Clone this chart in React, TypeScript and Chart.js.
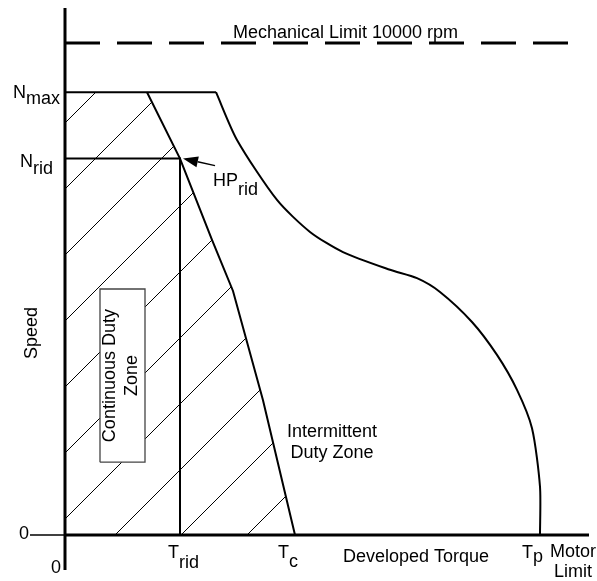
import React, { useEffect, useRef } from 'react';
import { Chart, registerables } from 'chart.js';

Chart.register(...registerables);

// ---- values (torque in arbitrary units, speed in rpm) ----
const SPEED_LIMIT = 10000;
const N_MAX = 9000;
const N_RID = 7650;
const T_RID = 115;
const T_C = 230;
const T_P = 475;

const continuousTorque = [82, 115, 147, 168, 198, 230];
const continuousSpeed = [9000, 7650, 6000, 4960, 2740, 0];

const intermittentTorque = [151, 172, 212, 245, 278, 325, 352, 375, 407, 432, 452, 467, 475, 475];
const intermittentSpeed = [9000, 8030, 6810, 6160, 5750, 5390, 5220, 4940, 4330, 3660, 2950, 2170, 980, 0];

const torqueAxisRange = [-35, 524];
const speedAxisRange = [-711, 10711];
const limitLineRange = [0, 505];

const boxTorque = [35, 80];
const boxSpeed = [1480, 5000];

const xTickLabels = [
  { main: 'T', sub: 'rid', value: T_RID },
  { main: 'T', sub: 'c', value: T_C },
  { main: 'T', sub: 'p', value: T_P },
];
const yTickLabels = [
  { main: 'N', sub: 'max', value: N_MAX },
  { main: 'N', sub: 'rid', value: N_RID },
];

const FONT = '18px "Liberation Sans", Arial, Helvetica, sans-serif';

function makeHatch(): CanvasPattern | string {
  const s = 66;
  const c = document.createElement('canvas');
  c.width = s;
  c.height = s;
  const g = c.getContext('2d');
  if (!g) return 'transparent';
  g.strokeStyle = '#000';
  g.lineWidth = 1;
  g.beginPath();
  g.moveTo(-3, 59);
  g.lineTo(59, -3);
  g.moveTo(53, 69);
  g.lineTo(69, 53);
  g.stroke();
  const p = g.createPattern(c, 'repeat');
  return p || 'transparent';
}

const pts = (xs: number[], ys: number[]) => xs.map((x, i) => ({ x, y: ys[i] }));

const labelsPlugin = {
  id: 'diagramLabels',
  afterDatasetsDraw(chart: any) {
    const { ctx, scales } = chart;
    const px = (v: number) => scales.x.getPixelForValue(v);
    const py = (v: number) => scales.y.getPixelForValue(v);
    ctx.save();
    ctx.fillStyle = '#000';
    ctx.strokeStyle = '#000';
    ctx.font = FONT;
    ctx.textBaseline = 'alphabetic';

    const sub = (main: string, s: string, x: number, y: number, dy: number) => {
      ctx.textAlign = 'left';
      ctx.fillText(main, x, y);
      const w = ctx.measureText(main).width;
      ctx.fillText(s, x + w, y + dy);
    };

    // mechanical limit text
    ctx.textAlign = 'left';
    ctx.fillText('Mechanical Limit 10000 rpm', px(0) + 168, py(SPEED_LIMIT) - 5);

    // y tick labels
    sub(yTickLabels[0].main, yTickLabels[0].sub, px(0) - 52, py(yTickLabels[0].value) + 6, 6);
    sub(yTickLabels[1].main, yTickLabels[1].sub, px(0) - 45, py(yTickLabels[1].value) + 8, 7);

    // x tick labels
    const xOff = [-12, -17, -18];
    const subOff = [10, 9, 4];
    xTickLabels.forEach((t, i) => {
      sub(t.main, t.sub, px(t.value) + xOff[i], py(0) + 23, subOff[i]);
    });

    // zeros
    ctx.textAlign = 'right';
    ctx.textBaseline = 'middle';
    ctx.fillText('0', px(0) - 36, py(0) - 1);
    ctx.textAlign = 'center';
    ctx.textBaseline = 'alphabetic';
    ctx.fillText('0', px(0) - 9, py(0) + 38);

    // axis titles
    ctx.textAlign = 'left';
    ctx.fillText('Developed Torque', px(0) + 278, py(0) + 27);
    ctx.textAlign = 'center';
    ctx.fillText('Motor', px(0) + 508, py(0) + 22);
    ctx.fillText('Limit', px(0) + 508, py(0) + 42);

    ctx.fillText('Intermittent', px(0) + 267, py(0) - 98);
    ctx.fillText('Duty Zone', px(0) + 267, py(0) - 77);

    ctx.save();
    ctx.translate(px(0) - 33, py(0) - 202);
    ctx.rotate(-Math.PI / 2);
    ctx.textBaseline = 'middle';
    ctx.textAlign = 'center';
    ctx.fillText('Speed', 0, 0);
    ctx.restore();

    // box text
    const bx = (px(boxTorque[0]) + px(boxTorque[1])) / 2;
    const by = (py(boxSpeed[0]) + py(boxSpeed[1])) / 2;
    ctx.save();
    ctx.translate(bx, by);
    ctx.rotate(-Math.PI / 2);
    ctx.textBaseline = 'middle';
    ctx.textAlign = 'center';
    ctx.fillText('Continuous Duty', 0, -12);
    ctx.fillText('Zone', 0, 9.5);
    ctx.restore();

    // HP_rid label and arrow
    sub('HP', 'rid', px(T_RID) + 33, py(N_RID) + 27, 9);
    const tipX = px(T_RID) + 3;
    const tipY = py(N_RID);
    const tailX = tipX + 32;
    const tailY = tipY + 7;
    const ang = Math.atan2(tipY - tailY, tipX - tailX);
    const hl = 15;
    const hw = 5.5;
    const bxh = tipX - hl * Math.cos(ang);
    const byh = tipY - hl * Math.sin(ang);
    ctx.lineWidth = 1.5;
    ctx.beginPath();
    ctx.moveTo(tailX, tailY);
    ctx.lineTo(bxh, byh);
    ctx.stroke();
    ctx.beginPath();
    ctx.moveTo(tipX, tipY);
    ctx.lineTo(bxh + hw * Math.sin(ang), byh - hw * Math.cos(ang));
    ctx.lineTo(bxh - hw * Math.sin(ang), byh + hw * Math.cos(ang));
    ctx.closePath();
    ctx.fill();

    ctx.restore();
  },
};

export default function App() {
  const ref = useRef<HTMLCanvasElement | null>(null);

  useEffect(() => {
    if (!ref.current) return;
    const hatch = makeHatch();
    const line = (data: any[], width: number, extra: any = {}) => ({
      data,
      showLine: true,
      borderColor: '#000',
      borderWidth: width,
      pointRadius: 0,
      pointHoverRadius: 0,
      fill: false,
      tension: 0,
      ...extra,
    });

    const hatchPoly = [
      { x: 0, y: 0 },
      { x: 0, y: N_MAX },
      ...pts(continuousTorque, continuousSpeed),
      { x: 0, y: 0 },
    ];
    const boxPoly = [
      { x: boxTorque[0], y: boxSpeed[0] },
      { x: boxTorque[0], y: boxSpeed[1] },
      { x: boxTorque[1], y: boxSpeed[1] },
      { x: boxTorque[1], y: boxSpeed[0] },
      { x: boxTorque[0], y: boxSpeed[0] },
    ];

    const chart = new Chart(ref.current, {
      type: 'scatter',
      data: {
        datasets: [
          line([{ x: torqueAxisRange[0], y: 0 }, { x: 0, y: 0 }], 1.5, { order: 1 }),
          line([{ x: 0, y: 0 }, { x: torqueAxisRange[1], y: 0 }], 3, { order: 1 }),
          line([{ x: 0, y: speedAxisRange[0] }, { x: 0, y: speedAxisRange[1] }], 3, { order: 1 }),
          line([{ x: limitLineRange[0], y: SPEED_LIMIT }, { x: limitLineRange[1], y: SPEED_LIMIT }], 3, {
            borderDash: [35, 17],
            borderCapStyle: 'butt',
            order: 1,
          }),
          line([{ x: 0, y: N_MAX }, { x: intermittentTorque[0], y: N_MAX }], 2, { order: 1 }),
          line([{ x: 0, y: N_RID }, { x: T_RID, y: N_RID }, { x: T_RID, y: 0 }], 2, { order: 1 }),
          line(pts(continuousTorque, continuousSpeed), 2, { order: 1 }),
          line(pts(intermittentTorque, intermittentSpeed), 2, { order: 1, tension: 0.25 }),
          line(boxPoly, 1.3, { borderColor: '#444', backgroundColor: '#fff', fill: 'shape', order: 5 }),
          line(hatchPoly, 0, { borderColor: 'transparent', backgroundColor: hatch, fill: 'shape', order: 10 }),
        ],
      },
      options: {
        animation: false,
        responsive: true,
        maintainAspectRatio: false,
        events: [],
        layout: { padding: 0 },
        scales: {
          x: { type: 'linear', display: false, min: -65, max: 532 },
          y: { type: 'linear', display: false, min: -935, max: 10874 },
        },
        plugins: {
          legend: { display: false },
          tooltip: { enabled: false },
        },
      },
      plugins: [labelsPlugin],
    });
    return () => chart.destroy();
  }, []);

  return (
    <div style={{ position: 'fixed', left: 0, top: 0, width: 597, height: 581, background: '#fff' }}>
      <canvas ref={ref} />
    </div>
  );
}
